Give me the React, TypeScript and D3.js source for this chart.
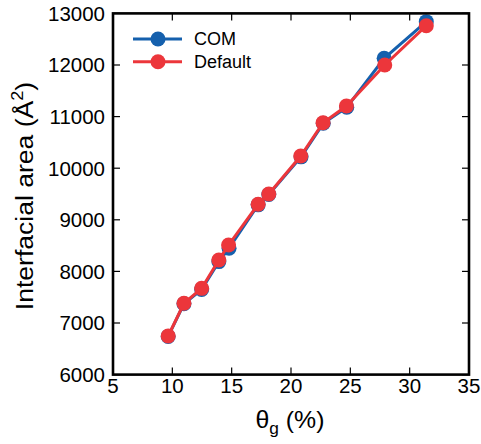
import React from "react";
import * as d3 from "d3";

const thetaCOM = [9.65, 10.98, 12.47, 13.92, 14.78, 17.23, 18.13, 20.85, 22.72, 24.7, 27.85, 31.4];
const areaCOM = [6740, 7372, 7650, 8190, 8450, 9290, 9490, 10220, 10870, 11180, 12130, 12840];
const thetaDefault = [9.65, 10.98, 12.47, 13.92, 14.74, 17.23, 18.13, 20.82, 22.7, 24.67, 27.9, 31.4];
const areaDefault = [6748, 7382, 7672, 8221, 8512, 9300, 9500, 10236, 10882, 11205, 12000, 12762];
const xTicks = [5, 10, 15, 20, 25, 30, 35];
const yTicks = [6000, 7000, 8000, 9000, 10000, 11000, 12000, 13000];
const seriesNames = ["COM", "Default"];

const W = 481, H = 444;
const L = 113, R = 469, T = 13.4, B = 374.6;
const BLUE = "#1560ad";
const RED = "#ec363b";
const FONT = "Liberation Sans, Arial, Helvetica, sans-serif";

export default function App() {
  const x = d3.scaleLinear().domain([5, 35]).range([L, R]);
  const y = d3.scaleLinear().domain([6000, 13000]).range([B, T]);
  const line = d3.line<[number, number]>().x(d => x(d[0])).y(d => y(d[1]));
  const series = [
    { name: seriesNames[0], color: BLUE, pts: thetaCOM.map((t, i) => [t, areaCOM[i]] as [number, number]) },
    { name: seriesNames[1], color: RED, pts: thetaDefault.map((t, i) => [t, areaDefault[i]] as [number, number]) },
  ];
  const tl = 7;
  return (
    <svg width={W} height={H} style={{ position: "absolute", left: 0, top: 0, background: "#fff" }} fontFamily={FONT}>
      {series.map(s => (
        <g key={s.name}>
          <path d={line(s.pts) || ""} fill="none" stroke={s.color} strokeWidth={3} />
          {s.pts.map((p, i) => (
            <circle key={i} cx={x(p[0])} cy={y(p[1])} r={7.5} fill={s.color} />
          ))}
        </g>
      ))}
      {xTicks.map(t => (
        <g key={"x" + t}>
          <line x1={x(t)} x2={x(t)} y1={B} y2={B - tl} stroke="#000" strokeWidth={1.2} />
          <line x1={x(t)} x2={x(t)} y1={T} y2={T + tl} stroke="#000" strokeWidth={1.2} />
          <text x={x(t)} y={392.5} fontSize={20.5} textAnchor="middle" fill="#000">{t}</text>
        </g>
      ))}
      {yTicks.map(t => (
        <g key={"y" + t}>
          <line x1={L} x2={L + tl} y1={y(t)} y2={y(t)} stroke="#000" strokeWidth={1.2} />
          <line x1={R} x2={R - tl} y1={y(t)} y2={y(t)} stroke="#000" strokeWidth={1.2} />
          <text x={105} y={y(t)} dy="0.36em" fontSize={20.5} textAnchor="end" fill="#000">{t}</text>
        </g>
      ))}
      <rect x={L} y={T} width={R - L} height={B - T} fill="none" stroke="#000" strokeWidth={2.6} />
      {series.map((s, i) => {
        const ly = 39 + i * 22.7;
        return (
          <g key={"lg" + s.name}>
            <line x1={133} x2={182} y1={ly} y2={ly} stroke={s.color} strokeWidth={3} />
            <circle cx={158} cy={ly} r={7.5} fill={s.color} />
            <text x={194} y={ly} dy="0.36em" fontSize={18} fill="#000">{s.name}</text>
          </g>
        );
      })}
      <text transform="translate(33,196) rotate(-90) scale(1.13,1)" textAnchor="middle" fontSize={23.5} fill="#000">
        Interfacial area (Å<tspan dy={-10} fontSize={16}>2</tspan><tspan dy={10}>)</tspan>
      </text>
      <text transform="translate(290,428) scale(1.08,1)" textAnchor="middle" fontSize={23} fill="#000">
        θ<tspan dy={6} fontSize={16}>g</tspan><tspan dy={-6}> (%)</tspan>
      </text>
    </svg>
  );
}
